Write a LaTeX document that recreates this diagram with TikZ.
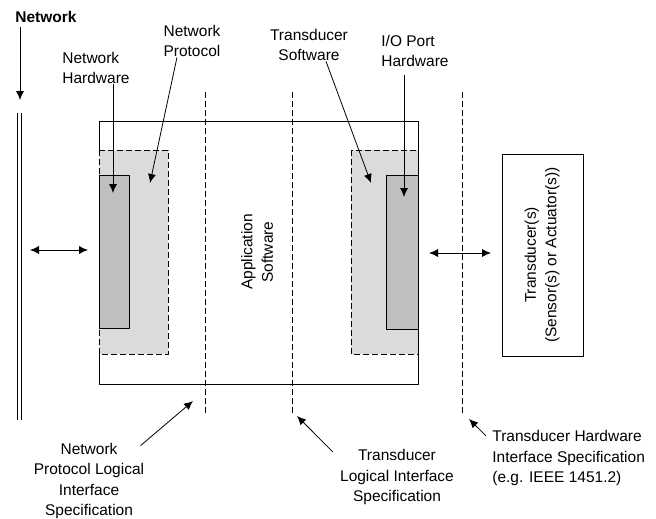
\documentclass[tikz,border=0pt]{standalone}
\usepackage{fontspec}
\setmainfont{Liberation Sans}
\usetikzlibrary{arrows.meta}
\begin{document}
\begin{tikzpicture}[x=1pt,y=-1pt, font=\fontsize{15.5}{20.5}\selectfont, line join=round, >={Latex[length=9pt,width=8pt]}, line width=0.8pt,
	lbl/.style={inner sep=0pt},
	iface/.style={dash pattern=on 6pt off 3pt},
	sw/.style={fill=black!14, dash pattern=on 6pt off 3pt},
	hw/.style={fill=black!25}]
	\useasboundingbox (0,0) rectangle (656,519);
	% boxes
	\draw (99,121) rectangle (418,384);
	\draw[sw] (99,150) rectangle (168,354);
	\draw[hw] (99,175) rectangle (129,328);
	\draw[sw] (351,150) rectangle (418,354);
	\draw[hw] (386,175) rectangle (418,329);
	\draw (502,154) rectangle (583,356);
	% network bus
	\draw (17.5,113)--(17.5,420) (21.5,113)--(21.5,420);
	% interfaces
	\draw[iface] (205,92)--(205,414) (292,92)--(292,414) (462,92)--(462,415);
	\path 
	(15,17) node[lbl,anchor=west,font=\fontsize{15.5}{20.5}\selectfont\bfseries] (net) {Network}
	(62,68) node[lbl,anchor=west,align=left] (nethw) {Network\\Hardware}
	(192,41) node[lbl,align=center] (netpr) {Network\\Protocol}
	(309,45) node[lbl,align=center] (tdsw) {Transducer\\Software}
	(381,51) node[lbl,anchor=west,align=left] (iohw) {I/O Port\\Hardware}
	(257,252) node[lbl,rotate=90,align=center] (app) {Application\\Software}
	(542,255) node[lbl,rotate=90,align=center] (tdc) {Transducer(s)\\(Sensor(s) or Actuator(s))}
	(89,481) node[lbl,align=center] (nplis) {Network\\Protocol Logical\\Interface\\Specification}
	(397,477) node[lbl,align=center] (tlis) {Transducer\\Logical Interface\\Specification}
	(492,458) node[lbl,anchor=west,align=left] (this) {Transducer Hardware\\Interface Specification\\(e.g. IEEE 1451.2)};
	\coordinate (busin) at (20,100);
	\coordinate (nethwin) at (113,193);
	\coordinate (netprin) at (150,183);
	\coordinate (tdswin) at (371,183);
	\coordinate (iohwin) at (404,197);
	\coordinate (busR) at (30,250);
	\coordinate (mainL) at (88,250);
	\coordinate (mainR) at (429,253);
	\coordinate (tdcL) at (491,253);
	\coordinate (ifA) at (193,401);
	\coordinate (ifB) at (297,416);
	\coordinate (ifC) at (469,419);
	\draw[->] ([xshift=5pt,yshift=-4pt]net.south west)--(busin);
	\draw[->] (nethw.south -| nethwin)--(nethwin);
	\draw[->] ([xshift=-15pt]netpr.south)--(netprin);
	\draw[->] ([xshift=17pt]tdsw.south)--(tdswin);
	\draw[->] ([yshift=-8pt]iohw.south -| iohwin)--(iohwin);
	\draw[<->] (busR)--(mainL);
	\draw[<->] (mainR)--(tdcL);
	\draw[->] ([xshift=-4pt,yshift=-3pt]nplis.north east)--(ifA);
	\draw[->] ([xshift=-7pt,yshift=-3pt]tlis.north west)--(ifB);
	\draw[->] ([xshift=-6pt,yshift=-6pt]this.north west)--(ifC);
\end{tikzpicture}
\end{document}
